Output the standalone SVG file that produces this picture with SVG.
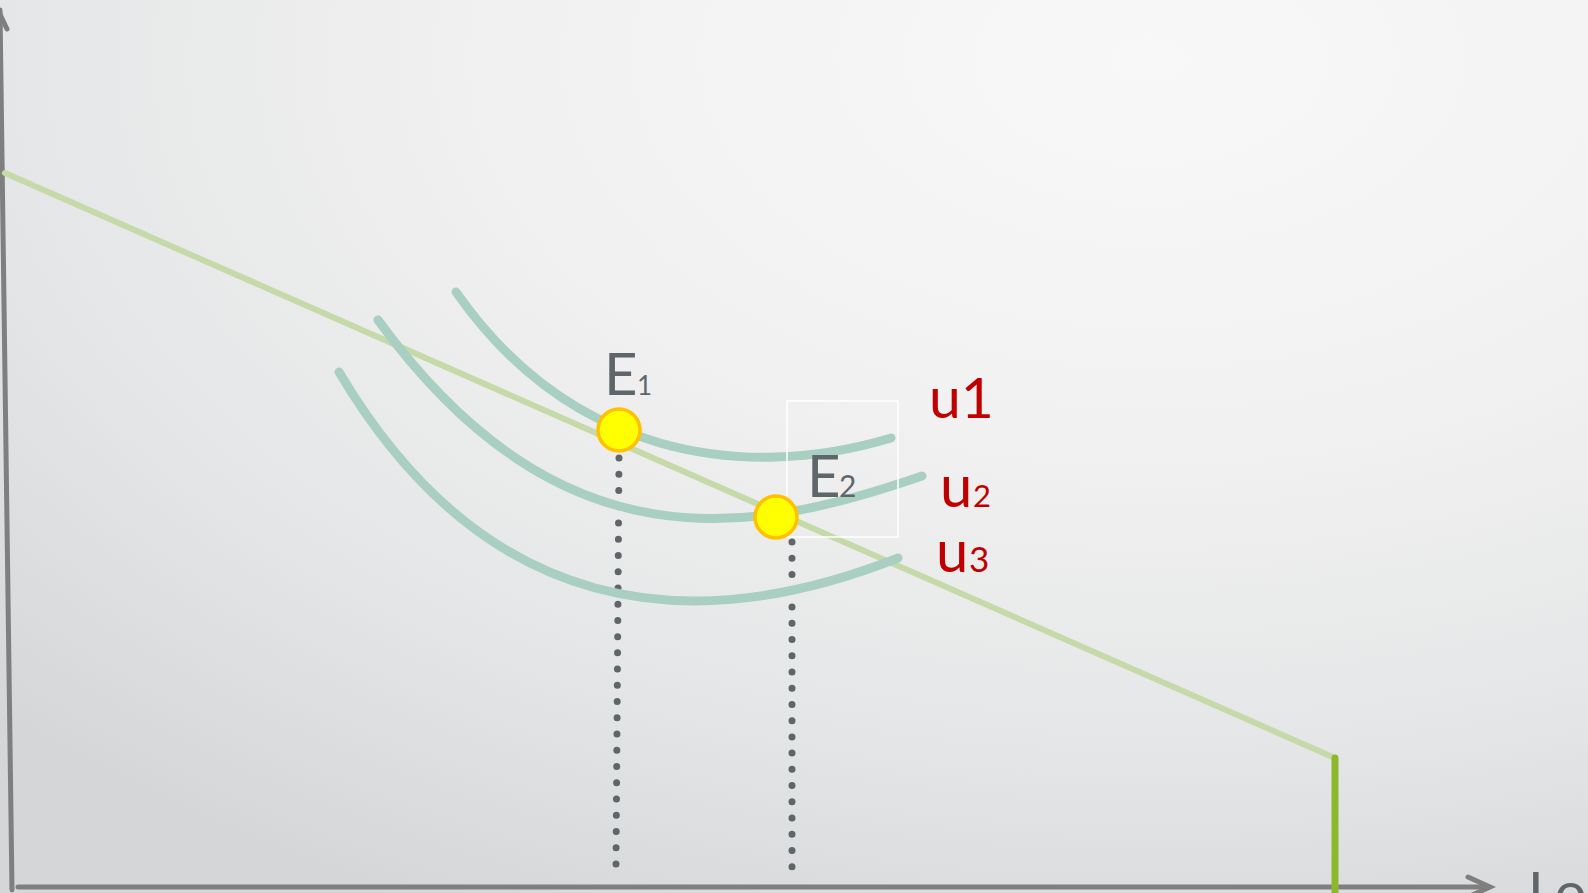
<svg xmlns="http://www.w3.org/2000/svg" width="1588" height="893" viewBox="0 0 1588 893">
<defs>
<radialGradient id="bg" gradientUnits="userSpaceOnUse" cx="0" cy="0" r="1" gradientTransform="translate(1150,60) scale(1600,950)">
<stop offset="0" stop-color="#f8f8f8"/>
<stop offset="0.4" stop-color="#f1f1f1"/>
<stop offset="0.72" stop-color="#e5e6e7"/>
<stop offset="1" stop-color="#d4d6d8"/>
</radialGradient>
<style>
.axis{stroke:#7f7f7f;stroke-width:5;fill:none;stroke-linecap:round}
.ic{stroke:#a9cfc3;stroke-width:9;fill:none;stroke-linecap:round}
.dot{stroke:#5f6669;stroke-width:7;fill:none;stroke-linecap:round;stroke-dasharray:0 16.24}
.pt{fill:#ffff00;stroke:#ffc000;stroke-width:3.5}
.lbl{font-family:Lato,"Liberation Sans",sans-serif;fill:#5f6669}
.u{font-family:Lato,"Liberation Sans",sans-serif;fill:#c00000}
</style>
</defs>
<rect width="1588" height="893" fill="url(#bg)"/>
<g id="axes">
<path class="axis" d="M12,890 L0,10" stroke-width="4"/>
<path class="axis" d="M-4,6 L7,29" stroke-width="4"/>
<path class="axis" d="M18,887 L1488,887"/>
<path class="axis" d="M1468,877 L1490,887 L1468,897"/>
<text class="lbl" x="1528" y="912" font-size="56">Lo</text>
</g>
<g id="connectors">
<path d="M5,173 L1335,758" stroke="#c5d9a9" stroke-width="6" fill="none" stroke-linecap="round"/>
<path d="M1335,758 L1335,900" stroke="#8db82e" stroke-width="7" fill="none" stroke-linecap="round"/>
<path class="dot" d="M619,458 L616,864"/>
<path class="dot" d="M792,542 L792,883"/>
</g>
<g id="u3-curve"><path class="ic" d="M339,372 C485,618 690,640 898,558"/></g>
<g id="u2-curve"><path class="ic" d="M378,320 C560,570 752,535 922,476"/></g>
<g id="u1-curve"><path class="ic" d="M456,292 C570,455 741,483 891,438"/></g>
<rect x="787" y="401" width="111" height="136" fill="none" stroke="#ffffff" stroke-width="1.5"/>
<g id="E1">
<circle class="pt" cx="619" cy="430" r="21"/>
<text class="lbl" x="604" y="395" font-size="58">E</text>
<text class="lbl" x="637" y="395" font-size="26">1</text>
</g>
<g id="E2">
<circle class="pt" cx="776" cy="517" r="21"/>
<text class="lbl" x="807" y="497" font-size="58">E</text>
<text class="lbl" x="839" y="497" font-size="30">2</text>
</g>
<g id="u1"><text class="u" x="929" y="418" font-size="57">u1</text></g>
<g id="u2"><text class="u" x="940" y="507" font-size="58">u</text><text class="u" x="973" y="507" font-size="31">2</text></g>
<g id="u3"><text class="u" x="936" y="572" font-size="58">u</text><text class="u" x="969" y="572" font-size="35">3</text></g>
</svg>
